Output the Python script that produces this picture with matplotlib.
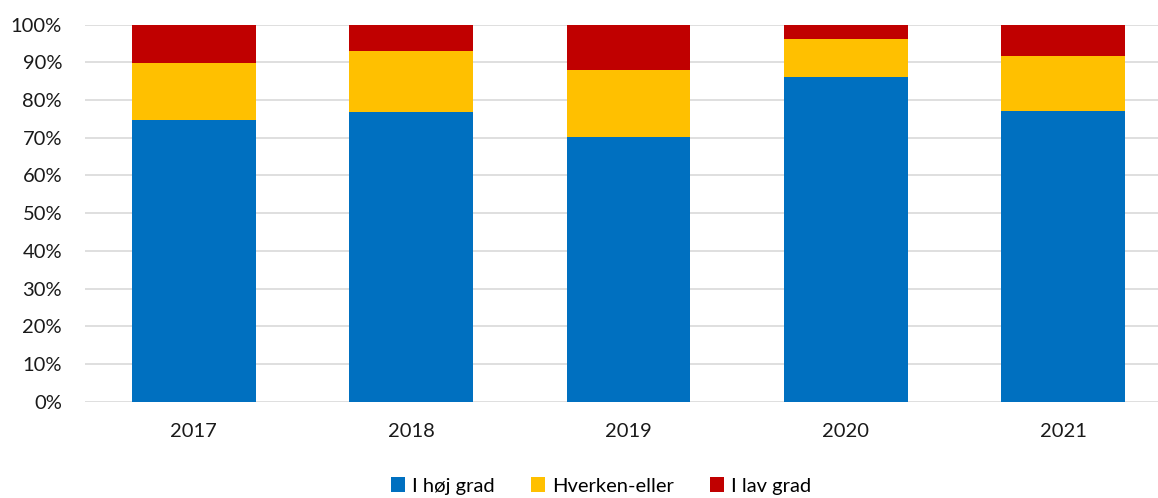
import matplotlib.pyplot as plt
import numpy as np
from matplotlib.ticker import PercentFormatter

years = ["2017", "2018", "2019", "2020", "2021"]
hoj_grad = [74.8, 76.8, 70.1, 86.0, 77.2]
hverken = [15.1, 16.3, 18.0, 10.1, 14.6]
lav_grad = [10.1, 6.9, 11.9, 3.9, 8.2]

series = [
    ("I høj grad", hoj_grad, "#0070C0"),
    ("Hverken-eller", hverken, "#FFC000"),
    ("I lav grad", lav_grad, "#C00000"),
]

plt.rcParams['font.family'] = ['Lato', 'DejaVu Sans']

fig = plt.figure(figsize=(11.58, 4.98), dpi=100)
ax = fig.add_axes([85 / 1158, 0.1934, 1087 / 1158, 0.757])

x = np.arange(len(years))
bottom = np.zeros(len(years))
for name, vals, color in series:
    vals = np.array(vals)
    ax.bar(x, vals, width=0.57, bottom=bottom, color=color, label=name, zorder=3)
    bottom += vals

ax.set_xlim(-0.5, len(years) - 0.5)
ax.set_ylim(0, 100)
ax.set_yticks(np.arange(0, 101, 10))
ax.yaxis.set_major_formatter(PercentFormatter(decimals=0))
ax.set_xticks(x)
ax.set_xticklabels(years)
ax.grid(axis="y", color="#D9D9D9", linewidth=1.2, zorder=0)
for s in ax.spines.values():
    s.set_visible(False)
ax.tick_params(axis="both", length=0, labelsize=14.5, colors="#1a1a1a")
ax.tick_params(axis="y", pad=16.5)
ax.tick_params(axis="x", pad=15)

handles, labels = ax.get_legend_handles_labels()
fig.legend(handles, labels, loc="center", bbox_to_anchor=(601 / 1158, 1 - 486 / 498),
           ncol=3, frameon=False, fontsize=14.5, handlelength=0.7, handleheight=0.7,
           handletextpad=0.35, columnspacing=1.8)

fig.savefig("out.png", dpi=100)
